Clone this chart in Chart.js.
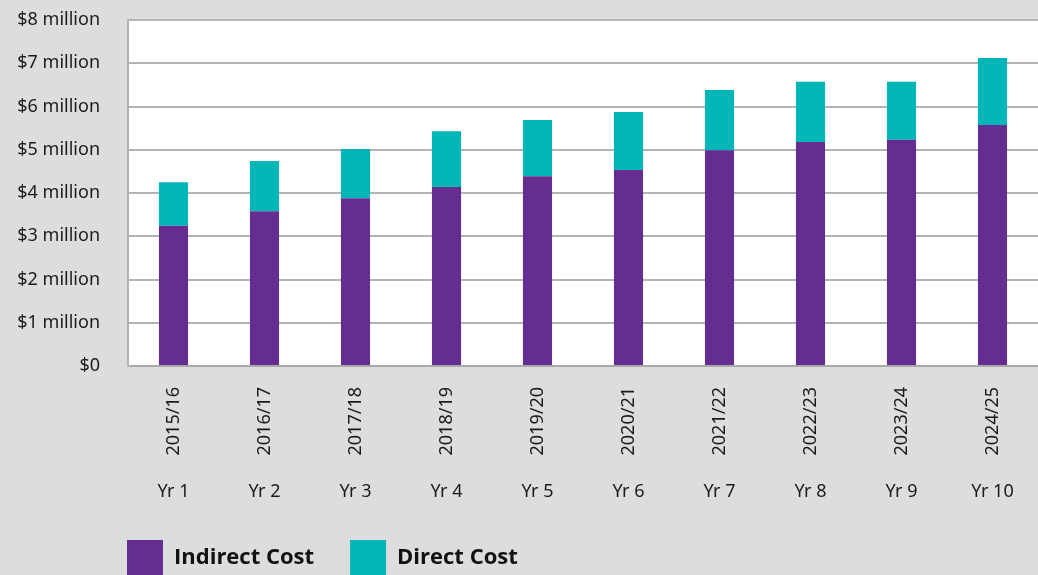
<!DOCTYPE html>
<html>
<head>
<meta charset="utf-8">
<script src="https://cdn.jsdelivr.net/npm/chart.js@4.4.1/dist/chart.umd.min.js"></script>
<style>
  html, body { margin: 0; padding: 0; background: #dcdddf; overflow: hidden; }
  #wrap { width: 1038px; height: 575px; position: relative; }
</style>
</head>
<body>
<div id="wrap"><canvas id="costChart"></canvas></div>
<script>
// Cost per financial year, $ million
const yearLabels = ["2015/16", "2016/17", "2017/18", "2018/19", "2019/20",
  "2020/21", "2021/22", "2022/23", "2023/24", "2024/25"];
const yrLabels = ["Yr 1", "Yr 2", "Yr 3", "Yr 4", "Yr 5",
  "Yr 6", "Yr 7", "Yr 8", "Yr 9", "Yr 10"];
const indirectCost = [3.24, 3.58, 3.88, 4.14, 4.39, 4.53, 4.99, 5.18, 5.23, 5.57];
const directCost = [1.01, 1.16, 1.14, 1.29, 1.30, 1.34, 1.39, 1.39, 1.34, 1.55];
const yMax = 8;

const tickFont = { family: "'Noto Sans', sans-serif", size: 18 };
const gridGrey = "#b4b4b4";
const legendPad = 36;

// white plot area + move the legend so it lines up under the axis
const plotBackground = {
  id: "plotBackground",
  beforeDraw(chart) {
    const { ctx, chartArea } = chart;
    ctx.save();
    ctx.fillStyle = "#ffffff";
    ctx.fillRect(chartArea.left, chartArea.top, chartArea.right - chartArea.left, chartArea.bottom - chartArea.top);
    ctx.restore();
  },
  afterLayout(chart) {
    const legend = chart.legend;
    const w = legend.right - legend.left;
    legend.left = 127 - legendPad;
    legend.right = legend.left + w;
    legend.top = 540 - legendPad;
    legend.bottom = chart.height;
  },
};

new Chart(document.getElementById("costChart"), {
  type: "bar",
  data: {
    labels: yearLabels,
    datasets: [
      {
        label: "Indirect Cost",
        data: indirectCost,
        backgroundColor: "#652d90",
        barPercentage: 0.32,
        categoryPercentage: 1,
      },
      {
        label: "Direct Cost",
        data: directCost,
        backgroundColor: "#00b6b6",
        barPercentage: 0.32,
        categoryPercentage: 1,
      },
    ],
  },
  options: {
    responsive: true,
    maintainAspectRatio: false,
    animation: false,
    layout: { padding: { top: 20, right: 0, left: 0, bottom: 0 } },
    scales: {
      x: {
        stacked: true,
        grid: { display: false },
        border: { color: "#a9a9a9", width: 2 },
        ticks: {
          color: "#1a1a1a",
          font: tickFont,
          minRotation: 90,
          maxRotation: 90,
          padding: 13,
        },
        afterFit(scale) {
          scale.height = 105;
          scale.paddingTop = 0;
        },
      },
      x2: {
        type: "category",
        labels: yrLabels,
        position: "bottom",
        offset: true,
        grid: { display: false, drawTicks: false },
        border: { display: false },
        ticks: { color: "#1a1a1a", font: tickFont, padding: 10 },
        afterFit(scale) {
          scale.height = 50;
          scale.paddingTop = 0;
        },
      },
      y: {
        stacked: true,
        min: 0,
        max: yMax,
        grid: { color: gridGrey, lineWidth: 2, drawTicks: false },
        border: { color: gridGrey, width: 2 },
        ticks: {
          stepSize: 1,
          color: "#1a1a1a",
          font: tickFont,
          padding: 28,
          callback: (v) => (v === 0 ? "$0" : "$" + v + " million"),
        },
        afterFit(scale) {
          scale.width = 128;
          scale.paddingTop = 0;
        },
      },
    },
    plugins: {
      legend: {
        position: "bottom",
        align: "start",
        maxHeight: 54,
        labels: {
          boxWidth: 36,
          boxHeight: 36,
          padding: legendPad,
          color: "#111111",
          font: { family: "'Open Sans', sans-serif", size: 22, weight: "bold" },
        },
      },
      tooltip: { enabled: false },
    },
  },
  plugins: [plotBackground],
});
</script>
</body>
</html>
